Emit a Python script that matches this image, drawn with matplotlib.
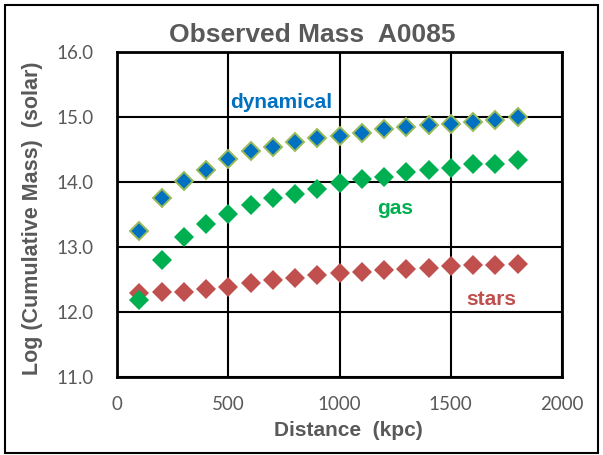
import matplotlib
matplotlib.use('Agg')
import matplotlib.pyplot as plt
from matplotlib.patches import Rectangle

distance = [100, 200, 300, 400, 500, 600, 700, 800, 900,
            1000, 1100, 1200, 1300, 1400, 1500, 1600, 1700, 1800]
dynamical = [13.25, 13.75, 14.02, 14.18, 14.36, 14.47, 14.54, 14.61, 14.67,
             14.71, 14.75, 14.81, 14.85, 14.87, 14.89, 14.93, 14.96, 15.00]
gas = [12.18, 12.80, 13.15, 13.36, 13.51, 13.65, 13.75, 13.82, 13.90,
       13.98, 14.04, 14.08, 14.16, 14.18, 14.22, 14.27, 14.27, 14.34]
stars = [12.29, 12.31, 12.31, 12.36, 12.38, 12.44, 12.49, 12.53, 12.57,
         12.60, 12.62, 12.65, 12.66, 12.67, 12.71, 12.72, 12.72, 12.74]

gray = '#595959'
bold_font = ['Liberation Sans', 'DejaVu Sans']
tick_font = ['Lato', 'DejaVu Sans']

W, H = 603, 455
fig = plt.figure(figsize=(W / 100, H / 100), dpi=100)
ax = fig.add_axes([117 / W, 1 - 377 / H, 445 / W, 325 / H])

ax.plot(distance, stars, 'D', color='#C0504D', markersize=10.2, markeredgewidth=0, zorder=3)
ax.plot(distance, gas, 'D', color='#00B050', markersize=10.2, markeredgewidth=0, zorder=4)
ax.plot(distance, dynamical, 'D', color='#0070C0', markeredgecolor='#9BBB59',
        markersize=9.3, markeredgewidth=1.4, zorder=5)

# series labels
ax.text(739, 15.14, 'dynamical', color='#0070C0', fontsize=15, fontweight='bold',
        ha='center', va='baseline', family=bold_font)
ax.text(1249, 13.51, 'gas', color='#00B050', fontsize=15, fontweight='bold',
        ha='center', va='baseline', family=bold_font)
ax.text(1681, 12.11, 'stars', color='#C0504D', fontsize=15, fontweight='bold',
        ha='center', va='baseline', family=bold_font)

ax.set_xlim(0, 2000)
ax.set_ylim(11, 16)
ax.set_xticks([0, 500, 1000, 1500, 2000])
ax.set_yticks([11, 12, 13, 14, 15, 16])
ax.set_yticklabels(['11.0', '12.0', '13.0', '14.0', '15.0', '16.0'])
ax.grid(True, color='black', linewidth=1.5)
ax.set_axisbelow(True)
for s in ax.spines.values():
    s.set_linewidth(2)
    s.set_color('black')
ax.tick_params(length=0, labelsize=13.5, labelcolor=gray)
ax.tick_params(axis='y', pad=17)
ax.tick_params(axis='x', pad=14)
for lb in ax.get_xticklabels() + ax.get_yticklabels():
    lb.set_family(tick_font)

fig.text(312 / W, 1 - 42 / H, 'Observed Mass  A0085', fontsize=19, fontweight='bold',
         color=gray, family=bold_font, ha='center', va='baseline')
fig.text(348 / W, 1 - 436 / H, 'Distance  (kpc)', fontsize=15, fontweight='bold',
         color=gray, family=bold_font, ha='center', va='baseline')
fig.text(33 / W, 1 - 218 / H, 'Log (Cumulative Mass)  (solar)', fontsize=15.5,
         fontweight='bold', color=gray, family=bold_font, rotation=90,
         ha='center', va='center')

fig.patches.append(Rectangle((5 / W, 2 / H), 593 / W, 448 / H, transform=fig.transFigure,
                             fill=False, edgecolor='black', linewidth=1.5))

fig.savefig('out.png', dpi=100)
